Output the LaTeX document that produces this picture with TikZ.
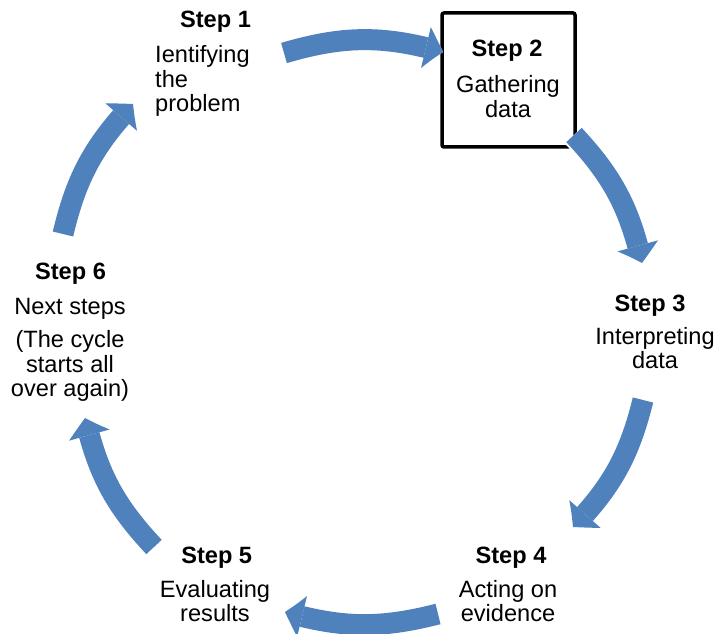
\documentclass[tikz,border=0pt]{standalone}
\usepackage{fontspec}
\setmainfont{Liberation Sans}
\usetikzlibrary{arrows.meta,bending}
\definecolor{cycleblue}{RGB}{79,129,189}

\begin{document}
\begin{tikzpicture}[x=1pt,y=1pt,
    steptitle/.style={anchor=base,inner sep=0pt,font=\fontsize{23.6}{24.5}\selectfont\bfseries},
    stepbody/.style={anchor=base,inner sep=0pt,align=center,font=\fontsize{23.6}{24.5}\selectfont},
    cyclearrow/.style={draw=cycleblue,line width=21pt,
        -{Triangle[width=42pt,length=18pt,line width=0pt,bend]},
        preaction={draw=white,line width=25pt,
            -{Triangle[width=48pt,length=21pt,line width=0pt,bend]}}}]
    \useasboundingbox (0,0) rectangle (714,633);
    % frame round step 2
    \node[draw,line width=3.5pt,rounded corners=2pt,minimum width=133pt,minimum height=134pt,inner sep=0pt] (frame2) at (508.5,553) {};
    % arrow ends
    \coordinate (a1s) at (284,580);
    \coordinate (a1e) at (443,581);
    \coordinate (a2s) at (574,498);
    \coordinate (a2e) at (642,370);
    \coordinate (a3s) at (643,233);
    \coordinate (a3e) at (573,106);
    \coordinate (a4s) at (438,19);
    \coordinate (a4e) at (285,21);
    \coordinate (a5s) at (154,86);
    \coordinate (a5e) at (85,215);
    \coordinate (a6s) at (63,399);
    \coordinate (a6e) at (133,529);
    \draw[cyclearrow] (a1s) to[bend left=16] (a1e);
    \draw[cyclearrow] (a2s) to[bend left=15] (a2e);
    \draw[cyclearrow] (a3s) to[bend left=15] (a3e);
    \draw[cyclearrow] (a4s) to[bend left=15] (a4e);
    \draw[cyclearrow] (a5s) to[bend left=15] (a5e);
    \draw[cyclearrow] (a6s) to[bend left=15] (a6e);
    % texts (body nodes sit on the baseline of their last line)
    \node[steptitle] (t1) at (215.5,605.7) {Step 1};
    \node[stepbody,anchor=base west,align=left] (b1) at (155,521.3) {Ientifying\\the\\problem};
    \node[steptitle] (t2) at (507,576) {Step 2};
    \node[stepbody] (b2) at (508,515.5) {Gathering\\data};
    \node[steptitle] (t3) at (650,321.3) {Step 3};
    \node[stepbody] (b3) at (655,264.5) {Interpreting\\data};
    \node[steptitle] (t4) at (511,70) {Step 4};
    \node[stepbody] (b4) at (508,11.5) {Acting on\\evidence};
    \node[steptitle] (t5) at (216.7,70) {Step 5};
    \node[stepbody] (b5) at (215,11.5) {Evaluating\\results};
    \node[steptitle] (t6) at (70.5,353.7) {Step 6};
    \node[stepbody] (b6) at (70,236.3) {Next steps\\[9pt](The cycle\\starts all\\over again)};
\end{tikzpicture}
\end{document}
